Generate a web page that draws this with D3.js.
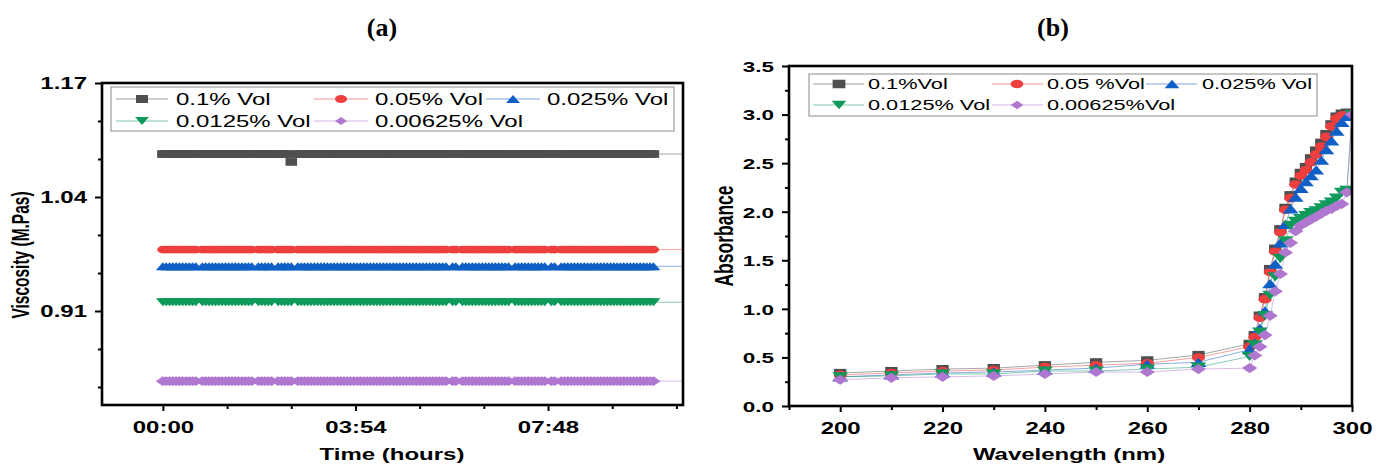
<!DOCTYPE html>
<html>
<head>
<meta charset="utf-8">
<script src="https://cdn.jsdelivr.net/npm/d3@7"></script>
<style>
  html, body { margin: 0; padding: 0; background: #fff; }
  svg { display: block; }
  text { font-family: "Liberation Sans", Arial, sans-serif; fill: #000; }
</style>
</head>
<body>
<svg id="chart" width="1384" height="464"></svg>
<script>
// ---------------- Panel (a): viscosity over time ----------------
const viscLabels = ["0.1% Vol", "0.05% Vol", "0.025% Vol", "0.0125% Vol", "0.00625% Vol"];
// steady viscosity level of each suspension (M.Pas)
const viscLevels = [1.089, 0.980, 0.961, 0.920, 0.830];
// logging times in minutes (readings missing at a few moments; last one lies past the axis)
const readingTimes = [
  0, 4, 8, 12, 16, 20, 24, 28, 32, 36, 40,
  48, 52, 56, 60, 64, 68, 72, 76, 80, 84, 88, 92, 96, 100, 104, 108,
  116, 120, 124, 128, 132,
  140, 144, 148, 152, 156,
  164, 168, 172, 176, 180, 184, 188, 192, 196, 200, 204, 208, 212, 216, 220, 224, 228, 232, 236,
  240, 244, 248, 252, 256, 260, 264, 268, 272, 276, 280, 284, 288, 292, 296, 300, 304, 308, 312,
  316, 320, 324, 328, 332, 336, 340, 344,
  352, 356,
  364, 368, 372, 376, 380, 384, 388, 392, 396, 400, 404, 408, 412, 416, 420,
  428, 432, 436, 440, 444, 448, 452, 456, 460, 464,
  472, 476,
  484, 488, 492, 496, 500, 504, 508, 512, 516, 520, 524, 528, 532, 536, 540, 544, 548, 552, 556,
  560, 564, 568, 572, 576, 580, 584, 588, 592, 596,
  640
];
// one low reading of the 0.1% sample
const viscDip = { series: 0, time: 156, value: 1.080 };
const timeTicks = [0, 234, 468];
const viscTicks = [1.17, 1.04, 0.91];

// ---------------- Panel (b): UV-Vis absorbance ----------------
const absLabels = ["0.1%Vol", "0.05 %Vol", "0.025% Vol", "0.0125% Vol", "0.00625%Vol"];
const wavelengths = [200, 210, 220, 230, 240, 250, 260, 270, 280,
  281, 282, 283, 284, 285, 286, 287, 288, 289, 290, 291, 292, 293, 294, 295, 296, 297, 298, 299, 300];
const absBlack  = [0.34, 0.36, 0.38, 0.39, 0.42, 0.45, 0.47, 0.525, 0.64,
  0.73, 0.93, 1.12, 1.41, 1.62, 1.82, 2.04, 2.17, 2.31, 2.40, 2.46, 2.55, 2.63, 2.71, 2.80, 2.90, 2.98, 3.01, 3.02, null];
const absRed    = [0.32, 0.34, 0.36, 0.37, 0.40, 0.42, 0.44, 0.50, 0.61,
  0.71, 0.91, 1.10, 1.38, 1.59, 1.79, 2.02, 2.14, 2.28, 2.37, 2.43, 2.51, 2.59, 2.67, 2.77, 2.88, 2.96, 2.99, 3.00, null];
const absBlue   = [0.30, 0.32, 0.34, 0.35, 0.37, 0.39, 0.43, 0.45, 0.58,
  0.65, 0.80, 0.98, 1.26, 1.46, 1.68, 1.87, 2.03, 2.15, 2.24, 2.31, 2.37, 2.43, 2.53, 2.64, 2.73, 2.83, 2.92, 2.98, null];
const absGreen  = [0.30, 0.31, 0.33, 0.33, 0.36, 0.36, 0.38, 0.40, 0.51,
  0.63, 0.76, 0.93, 1.14, 1.33, 1.52, 1.70, 1.86, 1.90, 1.93, 1.96, 1.99, 2.01, 2.04, 2.07, 2.10, 2.14, 2.20, 2.22, 3.00];
const absPurple = [0.27, 0.29, 0.30, 0.31, 0.33, 0.35, 0.35, 0.38, 0.39,
  0.52, 0.61, 0.73, 0.93, 1.18, 1.36, 1.58, 1.68, 1.80, 1.86, 1.89, 1.92, 1.95, 1.98, 2.01, 2.03, 2.06, 2.08, 2.20, 3.00];
const absTicksY = [0, 0.5, 1.0, 1.5, 2.0, 2.5, 3.0, 3.5];
const absTicksX = [200, 220, 240, 260, 280, 300];

// ---------------- shared styling ----------------
const colors = ["#4f4f4f", "#ef3e3e", "#0f5fc6", "#0f9a5c", "#b077d0"];
const shapes = ["square", "circle", "triangle", "triangleDown", "diamond"];
const SX = 1.5; // horizontal stretch applied to glyphs and markers

const svg = d3.select("#chart");

function markerPath(shape, h) {
  const r = h / 2;
  switch (shape) {
    case "square": return `M${-r},${-r}H${r}V${r}H${-r}Z`;
    case "circle": return `M${-r},0A${r},${r} 0 1,0 ${r},0A${r},${r} 0 1,0 ${-r},0Z`;
    case "triangle": { const w = h * 0.577; return `M0,${-r}L${w},${r}L${-w},${r}Z`; }
    case "triangleDown": { const w = h * 0.577; return `M0,${r}L${w},${-r}L${-w},${-r}Z`; }
    case "diamond": return `M0,${-r}L${r},0L0,${r}L${-r},0Z`;
  }
}

function stretchedText(g, x, y, str, size, opts = {}) {
  return g.append("text")
    .attr("transform", `translate(${x},${y}) scale(${SX},1)` + (opts.rotate ? ` rotate(${opts.rotate})` : ""))
    .attr("text-anchor", opts.anchor || "start")
    .style("font-size", size + "px")
    .style("font-weight", opts.bold ? "bold" : "normal")
    .text(str);
}

function drawAxes(g, x, y, cfg) {
  const [x0, x1] = x.range();
  const [y0, y1] = y.range(); // y0 bottom, y1 top

  // minor ticks
  g.append("g").attr("transform", `translate(0,${y0})`)
    .call(d3.axisBottom(x).tickValues(cfg.xMinor).tickSize(4).tickFormat(""))
    .call(a => a.select(".domain").remove());
  g.append("g").attr("transform", `translate(${x0},0)`)
    .call(d3.axisLeft(y).tickValues(cfg.yMinor).tickSize(4).tickFormat(""))
    .call(a => a.select(".domain").remove());

  // major ticks with labels
  const bx = g.append("g").attr("transform", `translate(0,${y0})`)
    .call(d3.axisBottom(x).tickValues(cfg.xTicks).tickSize(6).tickFormat(cfg.xFormat))
    .call(a => a.select(".domain").remove());
  bx.selectAll("text")
    .attr("y", 0).attr("dy", 0)
    .attr("transform", `translate(0,${cfg.xLabelBase}) scale(${SX},1)`)
    .style("font-size", "16px").style("font-weight", "bold").attr("fill", "#000");

  const ly = g.append("g").attr("transform", `translate(${x0},0)`)
    .call(d3.axisLeft(y).tickValues(cfg.yTicks).tickSize(7).tickFormat(cfg.yFormat))
    .call(a => a.select(".domain").remove());
  ly.selectAll("text")
    .attr("x", 0).attr("dy", "0.36em")
    .attr("transform", `translate(-15,0) scale(${SX},1)`)
    .style("font-size", cfg.yFontSize + "px").style("font-weight", "bold").attr("fill", "#000");

  g.selectAll(".tick line").attr("stroke", "#000").attr("stroke-width", 2);

  // frame
  g.append("rect")
    .attr("x", x0).attr("y", y1)
    .attr("width", x1 - x0).attr("height", y0 - y1)
    .attr("fill", "none").attr("stroke", "#000").attr("stroke-width", 2.6);
}

function drawLegend(g, box, entries, fontSize, markerH) {
  g.append("rect")
    .attr("x", box.x).attr("y", box.y).attr("width", box.w).attr("height", box.h)
    .attr("fill", "#fff").attr("stroke", "#8a8a8a").attr("stroke-width", 1);
  entries.forEach(e => {
    g.append("line")
      .attr("x1", e.lx1).attr("x2", e.lx2).attr("y1", e.y).attr("y2", e.y)
      .attr("stroke", e.color).attr("stroke-opacity", 0.55).attr("stroke-width", 1);
    g.append("path")
      .attr("d", markerPath(e.shape, markerH))
      .attr("transform", `translate(${e.mx},${e.y}) scale(${SX},1)`)
      .attr("fill", e.color);
    stretchedText(g, e.tx, e.y + fontSize * 0.36, e.label, fontSize);
  });
}

// ================= Panel (a) =================
const gA = svg.append("g");
const xA = d3.scaleLinear().domain([-74, 632]).range([102, 683]);
const yA = d3.scaleLinear().domain([0.8028, 1.17]).range([405, 83]);

svg.append("defs").append("clipPath").attr("id", "clipA")
  .append("rect").attr("x", 102).attr("y", 83).attr("width", 581).attr("height", 322);

const viscData = viscLevels.map((lvl, i) => readingTimes.map(t => ({
  t, v: (i === viscDip.series && t === viscDip.time) ? viscDip.value : lvl
})));

const lineA = d3.line().x(d => xA(d.t)).y(d => yA(d.v));
const plotA = gA.append("g").attr("clip-path", "url(#clipA)");
const markerSizeA = [7.7, 7.6, 8.2, 8.2, 9.6];
viscData.forEach((series, i) => {
  plotA.append("path").datum(series)
    .attr("d", lineA).attr("fill", "none")
    .attr("stroke", colors[i]).attr("stroke-opacity", 0.5).attr("stroke-width", 1);
  plotA.append("g").selectAll("path").data(series).join("path")
    .attr("d", markerPath(shapes[i], markerSizeA[i]))
    .attr("transform", d => `translate(${xA(d.t)},${yA(d.v)}) scale(${SX},1)`)
    .attr("fill", colors[i]);
});

const fmtClock = m => String(Math.floor(m / 60)).padStart(2, "0") + ":" + String(m % 60).padStart(2, "0");
drawAxes(gA, xA, yA, {
  xTicks: timeTicks, xMinor: [78, 156, 312, 390, 546, 624], xFormat: fmtClock, xLabelBase: 28,
  yTicks: viscTicks, yMinor: [1.1267, 1.0833, 0.9967, 0.9533, 0.8667, 0.8233],
  yFormat: d3.format(".2f"), yFontSize: 16
});

drawLegend(gA, { x: 111, y: 87, w: 563, h: 44 }, [
  { label: viscLabels[0], color: colors[0], shape: shapes[0], y: 99,  lx1: 116, lx2: 168, mx: 142, tx: 176 },
  { label: viscLabels[1], color: colors[1], shape: shapes[1], y: 99,  lx1: 314, lx2: 368, mx: 341, tx: 375 },
  { label: viscLabels[2], color: colors[2], shape: shapes[2], y: 99,  lx1: 486, lx2: 540, mx: 513, tx: 547 },
  { label: viscLabels[3], color: colors[3], shape: shapes[3], y: 121, lx1: 116, lx2: 168, mx: 142, tx: 176 },
  { label: viscLabels[4], color: colors[4], shape: shapes[4], y: 121, lx1: 314, lx2: 368, mx: 341, tx: 375 }
], 16, 8);

stretchedText(gA, 392, 460, "Time (hours)", 16, { anchor: "middle", bold: true });
stretchedText(gA, 29, 255, "Viscosity (M.Pas)", 15.5, { anchor: "middle", bold: true, rotate: -90 });

gA.append("text").attr("x", 382).attr("y", 36).attr("text-anchor", "middle")
  .style("font-family", "'Liberation Serif', 'Times New Roman', serif")
  .style("font-weight", "bold").style("font-size", "26px").text("(a)");

// ================= Panel (b) =================
const gB = svg.append("g");
const xB = d3.scaleLinear().domain([190, 300]).range([789, 1352]);
const yB = d3.scaleLinear().domain([0, 3.5]).range([406, 66]);

svg.select("defs").append("clipPath").attr("id", "clipB")
  .append("rect").attr("x", 789).attr("y", 66).attr("width", 563).attr("height", 340);

const absSeries = [absBlack, absRed, absBlue, absGreen, absPurple];
const absData = absSeries.map(vals => wavelengths.map((w, k) => ({ w, a: vals[k] })).filter(d => d.a != null));

const lineB = d3.line().x(d => xB(d.w)).y(d => yB(d.a));
const plotB = gB.append("g").attr("clip-path", "url(#clipB)");
const markerSizeB = [8.2, 8.6, 9.2, 9.2, 10.2];
absData.forEach((series, i) => {
  plotB.append("path").datum(series)
    .attr("d", lineB).attr("fill", "none")
    .attr("stroke", colors[i]).attr("stroke-opacity", 0.5).attr("stroke-width", 1);
});
absData.forEach((series, i) => {
  plotB.append("g").selectAll("path").data(series).join("path")
    .attr("d", markerPath(shapes[i], markerSizeB[i]))
    .attr("transform", d => `translate(${xB(d.w)},${yB(d.a)}) scale(${SX},1)`)
    .attr("fill", colors[i]);
});

drawAxes(gB, xB, yB, {
  xTicks: absTicksX, xMinor: [190, 210, 230, 250, 270, 290], xFormat: d3.format("d"), xLabelBase: 28,
  yTicks: absTicksY, yMinor: [0.25, 0.75, 1.25, 1.75, 2.25, 2.75, 3.25],
  yFormat: d3.format(".1f"), yFontSize: 15
});

drawLegend(gB, { x: 809, y: 74, w: 508, h: 42 }, [
  { label: absLabels[0], color: colors[0], shape: shapes[0], y: 84,  lx1: 813,  lx2: 864,  mx: 839,  tx: 868 },
  { label: absLabels[1], color: colors[1], shape: shapes[1], y: 84,  lx1: 992,  lx2: 1043, mx: 1017, tx: 1047 },
  { label: absLabels[2], color: colors[2], shape: shapes[2], y: 84,  lx1: 1146, lx2: 1197, mx: 1172, tx: 1202 },
  { label: absLabels[3], color: colors[3], shape: shapes[3], y: 105, lx1: 813,  lx2: 864,  mx: 839,  tx: 868 },
  { label: absLabels[4], color: colors[4], shape: shapes[4], y: 105, lx1: 992,  lx2: 1043, mx: 1017, tx: 1047 }
], 14.5, 8.5);

stretchedText(gB, 1069, 460, "Wavelength (nm)", 16, { anchor: "middle", bold: true });
stretchedText(gB, 733, 236, "Absorbance", 17.5, { anchor: "middle", bold: true, rotate: -90 });

gB.append("text").attr("x", 1053).attr("y", 36).attr("text-anchor", "middle")
  .style("font-family", "'Liberation Serif', 'Times New Roman', serif")
  .style("font-weight", "bold").style("font-size", "26px").text("(b)");
</script>
</body>
</html>
